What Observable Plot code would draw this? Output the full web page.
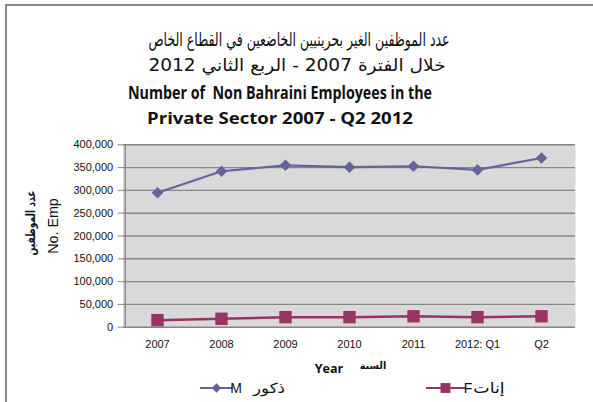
<!DOCTYPE html>
<html>
<head>
<meta charset="utf-8">
<script src="https://cdn.jsdelivr.net/npm/d3@7"></script>
<script src="https://cdn.jsdelivr.net/npm/@observablehq/plot@0.6"></script>
<style>
  html, body { margin: 0; padding: 0; background: #fff; }
  #wrap { position: relative; width: 593px; height: 402px; overflow: hidden; }
  #border { position: absolute; left: 5px; top: 4px; width: 600px; height: 410px; border-left: 2px solid #8a8a8a; border-top: 2px solid #8a8a8a; }
  .t { position: absolute; white-space: pre; line-height: 1; transform: translate(-50%, -50%); }
  .ar { font-family: "DejaVu Sans", sans-serif; }
  .en { font-family: "Open Sans", "Lato", sans-serif; font-weight: bold; color: #111; }
  svg { position: absolute; left: 0; top: 0; }
</style>
</head>
<body>
<div id="wrap">
  <div id="border"></div>
</div>
<script>
const periods = ["2007", "2008", "2009", "2010", "2011", "2012: Q1", "Q2"];
const males = [295000, 342000, 355000, 351000, 353000, 345000, 371000];
const females = [15500, 18500, 22000, 22000, 24000, 22000, 24000];
const yTicks = [0, 50000, 100000, 150000, 200000, 250000, 300000, 350000, 400000];
const titleAr1 = "عدد الموظفين الغير بحرينيين الخاضعين في القطاع الخاص";
const titleAr2 = "خلال الفترة 2007 - الربع الثاني 2012";
const titleEn1 = "Number of  Non Bahraini Employees in the";
const titleEn2 = "Private Sector 2007 - Q2 2012";
const yLabelEn = "No. Emp";
const yLabelAr = "عدد الموظفين";
const xLabelEn = "Year";
const xLabelAr = "السنة";
const seriesCodes = ["M", "F"];
const seriesArabic = ["ذكور", "إنات"];

const colorM = "#64649c";
const colorF = "#993366";

const rows = [
  ...periods.map((p, i) => ({period: p, value: males[i], series: "M"})),
  ...periods.map((p, i) => ({period: p, value: females[i], series: "F"}))
];
const mRows = rows.filter(d => d.series === "M");
const fRows = rows.filter(d => d.series === "F");

const chart = Plot.plot({
  width: 593,
  height: 402,
  marginLeft: 122.7,
  marginRight: 18,
  marginTop: 144.3,
  marginBottom: 75.3,
  style: {fontFamily: "'Liberation Sans', Arial, sans-serif", fontSize: "11px", color: "#111", background: "transparent", overflow: "visible"},
  x: {type: "point", domain: periods, padding: 0.5, label: null, tickSize: 0, tickPadding: 13},
  y: {domain: [0, 400000], label: null, ticks: yTicks, tickFormat: d3.format(","), tickSize: 5, tickPadding: 5},
  marks: [
    Plot.frame({fill: "#d9d9d9", stroke: null}),
    Plot.ruleY(yTicks, {stroke: "#858585", strokeWidth: 1.4}),
    Plot.ruleX([periods[0]], {stroke: "#858585", strokeWidth: 1.4, dx: -(64.6/2), y1: 0, y2: 400000}),
    Plot.axisY({ticks: yTicks, tickFormat: d3.format(","), tickSize: 5, tickPadding: 5, stroke: "#858585"}),
    Plot.axisX({tickSize: 0, tickPadding: 13}),
    Plot.line(mRows, {x: "period", y: "value", stroke: colorM, strokeWidth: 2.2}),
    Plot.line(fRows, {x: "period", y: "value", stroke: colorF, strokeWidth: 2.5}),
    Plot.dot(mRows, {x: "period", y: "value", symbol: "diamond2", r: 5.2, fill: colorM, stroke: "none"}),
    Plot.dot(fRows, {x: "period", y: "value", symbol: "square", r: 7, fill: colorF, stroke: "none"})
  ]
});
const wrap = document.getElementById("wrap");
wrap.appendChild(chart);

function addText(txt, cls, x, y, size, targetW, extra, rot) {
  const el = document.createElement("div");
  el.className = "t " + cls;
  el.textContent = txt;
  el.style.left = x + "px";
  el.style.top = y + "px";
  el.style.fontSize = size + "px";
  if (extra) Object.assign(el.style, extra);
  wrap.appendChild(el);
  let k = 1;
  if (targetW) {
    const w = el.offsetWidth;
    if (w > 0) k = targetW / w;
  }
  el.style.transform = `translate(-50%, -50%)${rot ? " rotate(" + rot + "deg)" : ""} scaleX(${k})`;
  return el;
}

addText(titleAr1, "ar", 298.5, 39, 19, 301, {color: "#111"});
addText(titleAr2, "ar", 296.5, 65, 17, 297, {color: "#111"});
addText(titleEn1, "en", 280, 91.5, 17, 304);
addText(titleEn2, "en", 280, 117.5, 16, 266);

addText(yLabelEn, "", 53, 226, 14, 55, {fontFamily: "'Liberation Sans', Arial, sans-serif", color: "#111"}, -90);
addText(yLabelAr, "ar", 31, 223, 12.5, 65, {fontWeight: "bold", color: "#111"}, -90);

addText(xLabelEn, "", 328.5, 367.5, 13, 29, {fontFamily: "'Open Sans', sans-serif", fontWeight: "bold", color: "#111"});
addText(xLabelAr, "ar", 372.5, 366, 10, 27, {fontWeight: "bold", color: "#111"});

// legend (HTML labels, so bidi text is positioned by its centre)
const leg = d3.select(chart).append("g");
const legItems = [
  {x0: 200, x1: 233, code: seriesCodes[0], ar: seriesArabic[0], arX: 269, arW: 32, color: colorM, sym: "diamond2", r: 4.2},
  {x0: 426, x1: 465, code: seriesCodes[1], ar: seriesArabic[1], arX: 489, arW: 31, color: colorF, sym: "square", r: 5.6}
];
const symMap = {diamond2: d3.symbolDiamond2, square: d3.symbolSquare};
for (const it of legItems) {
  leg.append("line").attr("x1", it.x0).attr("x2", it.x1).attr("y1", 388).attr("y2", 388)
    .attr("stroke", it.color).attr("stroke-width", 2.2);
  leg.append("path").attr("d", d3.symbol(symMap[it.sym], it.r * it.r * Math.PI)())
    .attr("transform", `translate(${(it.x0 + it.x1) / 2},388)`).attr("fill", it.color);
  leg.append("text").attr("x", it.x1 + 3).attr("y", 388).attr("dy", "0.35em")
    .style("font-family", "'Liberation Sans', sans-serif").style("font-size", "14px")
    .attr("fill", "#111").text(it.code);
  addText(it.ar, "ar", it.arX, 387.5, 14, it.arW, {color: "#111"});
}
</script>
</body>
</html>
